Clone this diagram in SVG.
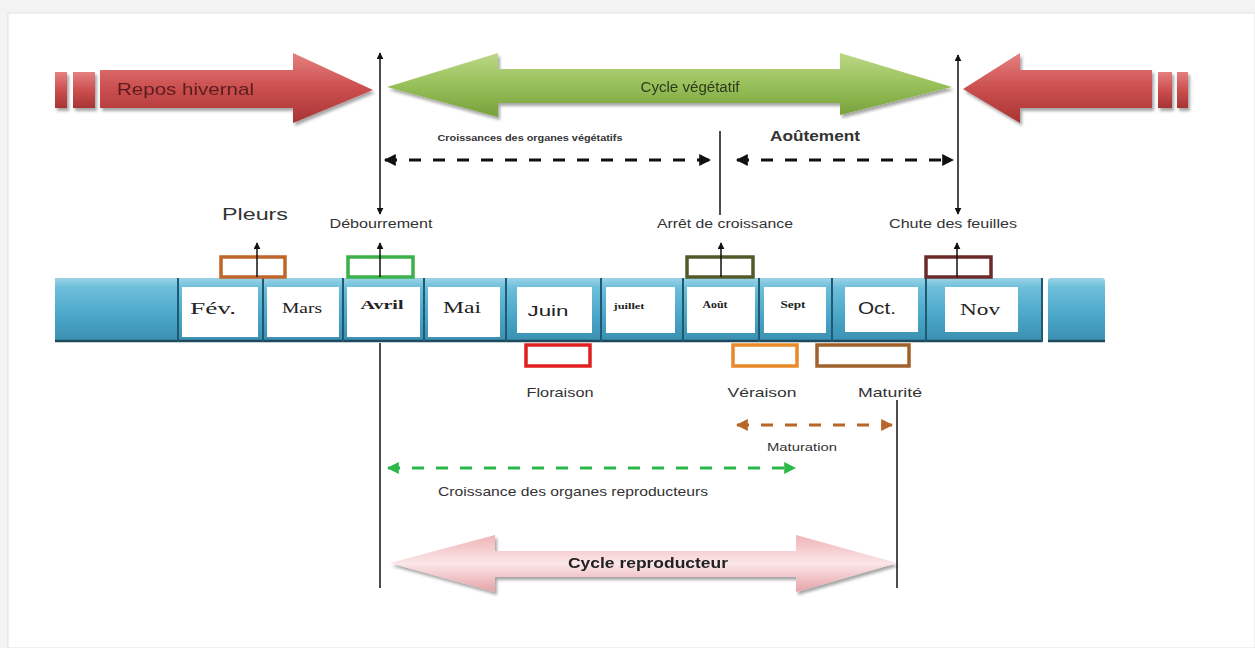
<svg xmlns="http://www.w3.org/2000/svg" width="1255" height="648" viewBox="0 0 1255 648">
<defs>
<linearGradient id="gRed" x1="0" y1="0" x2="0" y2="1"><stop offset="0" stop-color="#e58080"/><stop offset="0.5" stop-color="#cc4f4f"/><stop offset="1" stop-color="#a83434"/></linearGradient>
<linearGradient id="gGreen" x1="0" y1="0" x2="0" y2="1"><stop offset="0" stop-color="#bcd886"/><stop offset="0.5" stop-color="#98c05a"/><stop offset="1" stop-color="#76a03a"/></linearGradient>
<linearGradient id="gPink" x1="0" y1="0" x2="0" y2="1"><stop offset="0" stop-color="#f0b4b8"/><stop offset="0.5" stop-color="#fbe6e8"/><stop offset="1" stop-color="#e6a2a7"/></linearGradient>
<linearGradient id="gBand" x1="0" y1="0" x2="0" y2="1"><stop offset="0" stop-color="#9ad3e6"/><stop offset="0.15" stop-color="#6dbfdb"/><stop offset="0.6" stop-color="#4aa6c8"/><stop offset="1" stop-color="#3a8fb0"/></linearGradient>
<filter id="sh" x="-5%" y="-20%" width="110%" height="150%"><feDropShadow dx="2" dy="3" stdDeviation="1.5" flood-color="#000" flood-opacity="0.35"/></filter>
<marker id="ak" viewBox="0 0 10 10" refX="9" refY="5" markerWidth="4" markerHeight="4" orient="auto-start-reverse"><path d="M0,0 L10,5 L0,10 Z" fill="#111"/></marker>
<marker id="av" viewBox="0 0 10 10" refX="9" refY="5" markerWidth="7" markerHeight="7" markerUnits="userSpaceOnUse" orient="auto-start-reverse"><path d="M0,0 L10,5 L0,10 Z" fill="#111"/></marker>
<marker id="ag" viewBox="0 0 10 10" refX="9" refY="5" markerWidth="4" markerHeight="4" orient="auto-start-reverse"><path d="M0,0 L10,5 L0,10 Z" fill="#2db84a"/></marker>
<marker id="ab" viewBox="0 0 10 10" refX="9" refY="5" markerWidth="4" markerHeight="4" orient="auto-start-reverse"><path d="M0,0 L10,5 L0,10 Z" fill="#b8662a"/></marker>
</defs>
<style>
.lbl{font-family:"Liberation Sans",Arial,sans-serif;fill:#333;}
.mon{font-family:"Liberation Serif","Times New Roman",serif;fill:#222;}
.box{fill:#fff;stroke-width:3.5;}
.ln{stroke:#111;stroke-width:1.5;fill:none;}
.mbox{fill:#fff;}
.div{stroke:#1f5a70;stroke-width:2;}
</style>
<rect x="0" y="0" width="1255" height="648" fill="#f3f3f3"/>
<rect x="8" y="13" width="1247" height="635" fill="#fff" stroke="#e2e2e2" stroke-width="1"/>

<g id="repos-hivernal" filter="url(#sh)">
<rect x="55" y="72" width="12" height="36" fill="url(#gRed)"/>
<rect x="73" y="72" width="22" height="36" fill="url(#gRed)"/>
<path d="M100,70 L293,70 L293,53 L373,90 L293,123 L293,108 L100,108 Z" fill="url(#gRed)"/>
<text x="117" y="95" font-family="Liberation Sans,Arial,sans-serif" font-size="17" fill="#5a1e1e" textLength="137" lengthAdjust="spacingAndGlyphs">Repos hivernal</text>
</g>
<g id="cycle-vegetatif" filter="url(#sh)">
<path d="M387,87 L498,53 L498,69 L840,69 L840,53 L952,87 L840,115 L840,103 L498,103 L498,117 Z" fill="url(#gGreen)"/>
<text x="690" y="92" text-anchor="middle" font-family="Liberation Sans,Arial,sans-serif" font-size="14" fill="#2e3b1e" textLength="99" lengthAdjust="spacingAndGlyphs">Cycle végétatif</text>
</g>
<g id="repos-droite" filter="url(#sh)">
<path d="M963,89 L1020,53 L1020,70 L1152,70 L1152,108 L1020,108 L1020,123 Z" fill="url(#gRed)"/>
<rect x="1158" y="72" width="14" height="36" fill="url(#gRed)"/>
<rect x="1177" y="72" width="11" height="36" fill="url(#gRed)"/>
</g>

<g id="band">
<rect x="55" y="278" width="987" height="64" fill="url(#gBand)"/>
<rect x="1048" y="278" width="57" height="64" rx="3" fill="url(#gBand)"/>
<line x1="55" y1="341" x2="1042" y2="341" stroke="#1e4a5e" stroke-width="2.5"/>
<line x1="1048" y1="341" x2="1105" y2="341" stroke="#1e4a5e" stroke-width="2.5"/>
<line class="div" x1="178" y1="278" x2="178" y2="342"/>
<line class="div" x1="263" y1="278" x2="263" y2="342"/>
<line class="div" x1="343" y1="278" x2="343" y2="342"/>
<line class="div" x1="424" y1="278" x2="424" y2="342"/>
<line class="div" x1="506" y1="278" x2="506" y2="342"/>
<line class="div" x1="601" y1="278" x2="601" y2="342"/>
<line class="div" x1="683" y1="278" x2="683" y2="342"/>
<line class="div" x1="759" y1="278" x2="759" y2="342"/>
<line class="div" x1="832" y1="278" x2="832" y2="342"/>
<line class="div" x1="926" y1="278" x2="926" y2="342"/>
<line class="div" x1="1042" y1="278" x2="1042" y2="342"/>
<rect class="mbox" x="182" y="287" width="76" height="50"/>
<rect class="mbox" x="267" y="287" width="72" height="50"/>
<rect class="mbox" x="347" y="287" width="73" height="50"/>
<rect class="mbox" x="428" y="287" width="72" height="50"/>
<rect class="mbox" x="517" y="287" width="75" height="46"/>
<rect class="mbox" x="606" y="287" width="69" height="46"/>
<rect class="mbox" x="687" y="287" width="68" height="46"/>
<rect class="mbox" x="764" y="287" width="62" height="46"/>
<rect class="mbox" x="845" y="287" width="73" height="45"/>
<rect class="mbox" x="945" y="287" width="73" height="45"/>
<text class="mon" x="213" y="314" text-anchor="middle" font-size="16" textLength="46" lengthAdjust="spacingAndGlyphs">Fév.</text>
<text class="mon" x="302" y="313" text-anchor="middle" font-size="15" textLength="40" lengthAdjust="spacingAndGlyphs">Mars</text>
<text class="mon" x="382" y="309" text-anchor="middle" font-size="13" font-weight="bold" textLength="43" lengthAdjust="spacingAndGlyphs">Avril</text>
<text class="mon" x="462" y="313" text-anchor="middle" font-size="17" textLength="38" lengthAdjust="spacingAndGlyphs">Mai</text>
<text x="548" y="316" text-anchor="middle" font-family="Liberation Sans,Arial,sans-serif" font-size="15" fill="#222" textLength="41" lengthAdjust="spacingAndGlyphs">Juin</text>
<text class="mon" x="629" y="309" text-anchor="middle" font-size="9" font-weight="bold" textLength="31" lengthAdjust="spacingAndGlyphs">juillet</text>
<text class="mon" x="715" y="308" text-anchor="middle" font-size="11" font-weight="bold" textLength="25" lengthAdjust="spacingAndGlyphs">Août</text>
<text class="mon" x="793" y="308" text-anchor="middle" font-size="11" font-weight="bold" textLength="25" lengthAdjust="spacingAndGlyphs">Sept</text>
<text x="877" y="314" text-anchor="middle" font-family="Liberation Sans,Arial,sans-serif" font-size="16" fill="#222" textLength="38" lengthAdjust="spacingAndGlyphs">Oct.</text>
<text class="mon" x="980" y="315" text-anchor="middle" font-size="17" textLength="40" lengthAdjust="spacingAndGlyphs">Nov</text>
</g>

<g id="pleurs">
<rect class="box" x="221" y="257" width="64" height="20" stroke="#c0652a"/>
<text class="lbl" x="255" y="220" text-anchor="middle" font-size="17" fill="#444" textLength="66" lengthAdjust="spacingAndGlyphs">Pleurs</text>
</g>
<g id="debourrement">
<rect class="box" x="348" y="257" width="65" height="20" stroke="#3cb04a"/>
<text class="lbl" x="381" y="228" text-anchor="middle" font-size="12" textLength="103" lengthAdjust="spacingAndGlyphs">Débourrement</text>
</g>
<g id="arret">
<rect class="box" x="687" y="257" width="66" height="20" stroke="#525a2c"/>
<text class="lbl" x="725" y="228" text-anchor="middle" font-size="12" textLength="136" lengthAdjust="spacingAndGlyphs">Arrêt de croissance</text>
</g>
<g id="chute">
<rect class="box" x="926" y="257" width="65" height="20" stroke="#6b2a2a"/>
<text class="lbl" x="953" y="228" text-anchor="middle" font-size="12" textLength="128" lengthAdjust="spacingAndGlyphs">Chute des feuilles</text>
</g>
<g id="floraison">
<rect class="box" x="526" y="345" width="64" height="21" stroke="#e02020"/>
<text class="lbl" x="560" y="397" text-anchor="middle" font-size="13" textLength="67" lengthAdjust="spacingAndGlyphs">Floraison</text>
</g>
<g id="veraison">
<rect class="box" x="733" y="345" width="64" height="21" stroke="#e88a2a"/>
<text class="lbl" x="762" y="397" text-anchor="middle" font-size="13" textLength="69" lengthAdjust="spacingAndGlyphs">Véraison</text>
</g>
<g id="maturite">
<rect class="box" x="817" y="345" width="92" height="21" stroke="#a0622a"/>
<text class="lbl" x="890" y="397" text-anchor="middle" font-size="13" textLength="64" lengthAdjust="spacingAndGlyphs">Maturité</text>
</g>

<g id="cycle-reproducteur" filter="url(#sh)">
<path d="M390,563 L495,535 L495,551 L796,551 L796,535 L897,563 L796,592 L796,577 L495,577 L495,592 Z" fill="url(#gPink)"/>
<text x="648" y="568" text-anchor="middle" font-family="Liberation Sans,Arial,sans-serif" font-size="14" font-weight="bold" fill="#222" textLength="160" lengthAdjust="spacingAndGlyphs">Cycle reproducteur</text>
</g>

<g id="labels">
<text class="lbl" x="530" y="141" text-anchor="middle" font-size="9" font-weight="bold" fill="#222" textLength="185" lengthAdjust="spacingAndGlyphs">Croissances des organes végétatifs</text>
<text class="lbl" x="815" y="141" text-anchor="middle" font-size="14" font-weight="bold" fill="#222" textLength="90" lengthAdjust="spacingAndGlyphs">Aoûtement</text>
<text class="lbl" x="802" y="451" text-anchor="middle" font-size="10" fill="#222" textLength="70" lengthAdjust="spacingAndGlyphs">Maturation</text>
<text class="lbl" x="573" y="496" text-anchor="middle" font-size="13" textLength="270" lengthAdjust="spacingAndGlyphs">Croissance des organes reproducteurs</text>
</g>

<g id="connectors">
<line class="ln" x1="380" y1="53" x2="380" y2="214" marker-start="url(#av)" marker-end="url(#av)"/>
<line class="ln" x1="958" y1="55" x2="958" y2="214" marker-start="url(#av)" marker-end="url(#av)"/>
<line class="ln" x1="720" y1="131" x2="720" y2="215"/>
<line class="ln" x1="257" y1="277" x2="257" y2="243" marker-end="url(#av)"/>
<line class="ln" x1="380" y1="277" x2="380" y2="243" marker-end="url(#av)"/>
<line class="ln" x1="721" y1="277" x2="721" y2="243" marker-end="url(#av)"/>
<line class="ln" x1="957" y1="277" x2="957" y2="243" marker-end="url(#av)"/>
<line class="ln" x1="380" y1="343" x2="380" y2="588"/>
<line class="ln" x1="897" y1="400" x2="897" y2="588"/>
<line x1="385" y1="160" x2="710" y2="160" stroke="#111" stroke-width="3" stroke-dasharray="12 12" marker-start="url(#ak)" marker-end="url(#ak)"/>
<line x1="737" y1="160" x2="953" y2="160" stroke="#111" stroke-width="3" stroke-dasharray="12 12" marker-start="url(#ak)" marker-end="url(#ak)"/>
<line x1="737" y1="425" x2="892" y2="425" stroke="#b8662a" stroke-width="3" stroke-dasharray="12 12" marker-start="url(#ab)" marker-end="url(#ab)"/>
<line x1="388" y1="468" x2="795" y2="468" stroke="#2db84a" stroke-width="3" stroke-dasharray="12 12" marker-start="url(#ag)" marker-end="url(#ag)"/>
</g>
</svg>
